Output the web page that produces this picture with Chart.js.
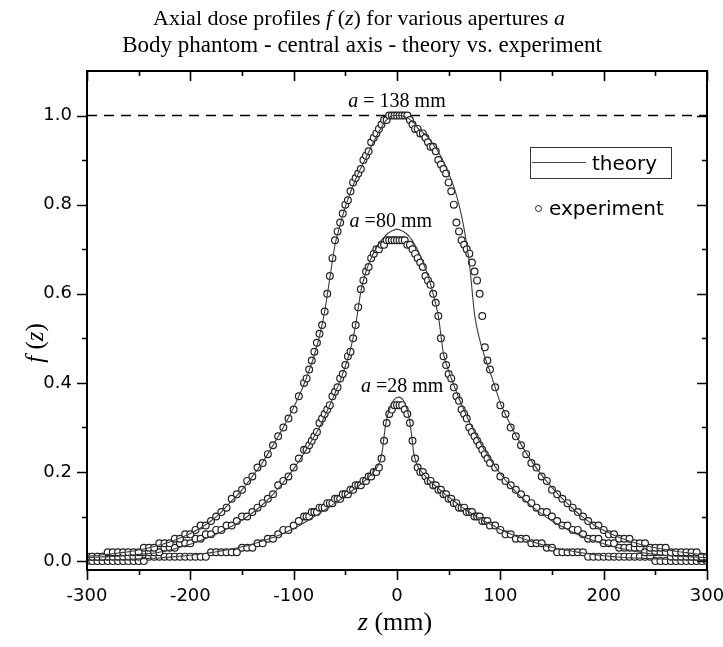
<!DOCTYPE html>
<html>
<head>
<meta charset="utf-8">
<script src="https://cdn.jsdelivr.net/npm/chart.js@4.4.1/dist/chart.umd.min.js"></script>
<style>
  html, body { margin: 0; padding: 0; background: #fff; }
  canvas { display: block; }
</style>
</head>
<body>
<canvas id="doseChart" width="723" height="647"></canvas>
<script>
// z positions (mm) of the measured points
const zExp = [
  -300,-295,-290,-285,-280,-275,-270,-265,-260,-255,-250,-245,-240,-235,-230,-225,-220,-215,-210,-205,-200,-195,-190,-185,-180,-175,-170,-165,-160,-155,-150,-145,-140,-135,-130,-125,-120,-115,-110,-105,-100,-95,-90,
  -87.5,-85,-82.5,-80,-77.5,-75,-72.5,-70,-67.5,-65,-62.5,-60,-57.5,-55,-52.5,-50,-47.5,-45,-42.5,-40,-37.5,-35,-32.5,-30,-27.5,-25,-22.5,-20,-17.5,-15,-12.5,-10,-7.5,-5,-2.5,
  0,
  2.5,5,7.5,10,12.5,15,17.5,20,22.5,25,27.5,30,32.5,35,37.5,40,42.5,45,47.5,50,52.5,55,57.5,60,62.5,65,67.5,70,72.5,75,77.5,80,82.5,85,87.5,
  90,95,100,105,110,115,120,125,130,135,140,145,150,155,160,165,170,175,180,185,190,195,200,205,210,215,220,225,230,235,240,245,250,255,260,265,270,275,280,285,290,295,300
];

// experiment, a = 138 mm
const exp138 = [
  0.01,0.01,0.01,0.01,0.02,0.02,0.02,0.02,0.02,0.02,0.02,0.03,0.03,0.03,0.04,0.04,0.04,0.05,0.05,0.06,0.06,0.07,0.08,0.08,0.09,0.10,0.11,0.12,0.14,0.15,0.16,0.18,0.19,0.21,0.22,0.24,0.26,0.28,0.30,0.32,0.34,0.37,0.40,
  0.41,0.43,0.45,0.47,0.49,0.51,0.53,0.56,0.60,0.64,0.68,0.72,0.74,0.76,0.78,0.80,0.81,0.83,0.85,0.86,0.87,0.88,0.90,0.91,0.92,0.94,0.95,0.96,0.97,0.98,0.99,0.99,1.00,1.00,1.00,
  1.00,
  1.00,1.00,1.00,1.00,0.99,0.98,0.97,0.97,0.96,0.96,0.95,0.94,0.93,0.93,0.92,0.90,0.89,0.88,0.87,0.85,0.83,0.80,0.76,0.74,0.72,0.71,0.70,0.69,0.67,0.65,0.63,0.60,0.55,0.48,0.45,
  0.43,0.39,0.35,0.33,0.30,0.28,0.26,0.24,0.22,0.21,0.19,0.18,0.16,0.15,0.14,0.13,0.12,0.11,0.10,0.09,0.08,0.08,0.07,0.06,0.06,0.05,0.05,0.05,0.04,0.04,0.04,0.03,0.03,0.03,0.03,0.02,0.02,0.02,0.02,0.02,0.02,0.01,0.01
];

// experiment, a = 80 mm
const exp80 = [
  0.01,0.01,0.01,0.01,0.01,0.01,0.01,0.01,0.01,0.01,0.01,0.02,0.02,0.02,0.02,0.03,0.03,0.03,0.04,0.04,0.04,0.05,0.05,0.06,0.06,0.07,0.07,0.08,0.08,0.09,0.10,0.10,0.11,0.12,0.13,0.14,0.15,0.17,0.18,0.19,0.21,0.23,0.25,
  0.25,0.26,0.27,0.28,0.29,0.31,0.32,0.33,0.34,0.35,0.37,0.38,0.39,0.41,0.42,0.44,0.46,0.47,0.50,0.53,0.57,0.61,0.63,0.65,0.66,0.68,0.69,0.70,0.70,0.71,0.71,0.72,0.72,0.72,0.72,
  0.72,
  0.72,0.72,0.72,0.71,0.71,0.70,0.69,0.68,0.67,0.66,0.64,0.63,0.62,0.60,0.58,0.55,0.50,0.46,0.44,0.42,0.41,0.39,0.37,0.36,0.34,0.33,0.32,0.30,0.29,0.28,0.27,0.26,0.25,0.24,0.23,
  0.22,0.21,0.19,0.18,0.17,0.16,0.15,0.14,0.13,0.12,0.11,0.11,0.10,0.09,0.08,0.08,0.07,0.07,0.06,0.05,0.05,0.05,0.04,0.04,0.04,0.03,0.03,0.03,0.03,0.03,0.02,0.02,0.02,0.02,0.02,0.01,0.01,0.01,0.01,0.01,0.01,0.01,0.01
];

// experiment, a = 28 mm
const exp28 = [
  0.00,0.00,0.00,0.00,0.00,0.00,0.00,0.00,0.00,0.00,0.00,0.00,0.01,0.01,0.01,0.01,0.01,0.01,0.01,0.01,0.01,0.01,0.01,0.01,0.02,0.02,0.02,0.02,0.02,0.02,0.03,0.03,0.03,0.04,0.04,0.05,0.05,0.06,0.07,0.07,0.08,0.09,0.10,
  0.10,0.10,0.11,0.11,0.11,0.12,0.12,0.12,0.13,0.13,0.13,0.14,0.14,0.14,0.15,0.15,0.15,0.16,0.16,0.17,0.17,0.17,0.18,0.18,0.19,0.19,0.20,0.20,0.21,0.23,0.27,0.31,0.33,0.34,0.35,
  0.35,
  0.35,0.35,0.34,0.33,0.31,0.27,0.23,0.21,0.20,0.20,0.19,0.18,0.18,0.17,0.17,0.16,0.16,0.15,0.15,0.14,0.14,0.13,0.13,0.12,0.12,0.12,0.11,0.11,0.11,0.10,0.10,0.10,0.09,0.09,0.09,
  0.08,0.08,0.07,0.06,0.06,0.05,0.05,0.05,0.04,0.04,0.04,0.03,0.03,0.02,0.02,0.02,0.02,0.02,0.02,0.01,0.01,0.01,0.01,0.01,0.01,0.01,0.01,0.01,0.01,0.01,0.01,0.01,0.00,0.00,0.00,0.00,0.00,0.00,0.00,0.00,0.00,0.00,0.00
];

// z positions (mm) of the theory curves
const zTheory = [
  -300,-290,-280,-270,-260,-250,-240,-230,-220,-210,-200,-190,-180,-170,-160,-150,-140,-130,-120,-110,-100,
  -95,-90,-85,-80,-75,-70,-65,-60,-55,-50,-45,-40,-35,-30,-25,-20,
  -18,-16,-14,-12,-10,-8,-6,-4,-2,0,2,4,6,8,10,12,14,16,18,
  20,25,30,35,40,45,50,55,60,65,70,75,80,85,90,95,
  100,110,120,130,140,150,160,170,180,190,200,210,220,230,240,250,260,270,280,290,300
];

const theory138 = [
  0.011,0.013,0.015,0.018,0.021,0.025,0.030,0.036,0.043,0.052,0.062,0.075,0.090,0.110,0.135,0.160,0.190,0.222,0.260,0.300,0.345,
  0.370,0.397,0.428,0.462,0.505,0.560,0.635,0.710,0.755,0.795,0.828,0.857,0.882,0.905,0.930,0.953,
  0.962,0.970,0.978,0.985,0.990,0.995,0.998,1.000,1.000,1.000,1.000,1.000,0.999,0.997,0.995,0.992,0.988,0.984,0.979,
  0.972,0.962,0.951,0.936,0.918,0.897,0.870,0.840,0.800,0.745,0.670,0.555,0.497,0.458,0.425,0.390,
  0.355,0.305,0.262,0.225,0.193,0.165,0.140,0.118,0.098,0.082,0.069,0.058,0.049,0.041,0.035,0.030,0.026,0.022,0.019,0.016,0.014
];

const theory80 = [
  0.008,0.009,0.010,0.011,0.013,0.015,0.017,0.020,0.025,0.031,0.038,0.046,0.055,0.066,0.078,0.092,0.108,0.127,0.150,0.177,0.207,
  0.224,0.242,0.260,0.280,0.300,0.325,0.350,0.377,0.405,0.437,0.475,0.530,0.605,0.650,0.680,0.703,
  0.710,0.717,0.723,0.728,0.733,0.737,0.740,0.742,0.744,0.745,0.744,0.742,0.740,0.737,0.733,0.728,0.722,0.715,0.707,
  0.698,0.672,0.640,0.600,0.550,0.465,0.427,0.395,0.365,0.338,0.313,0.290,0.268,0.248,0.229,0.212,
  0.196,0.168,0.144,0.124,0.106,0.090,0.077,0.065,0.055,0.046,0.039,0.032,0.027,0.022,0.018,0.015,0.013,0.011,0.010,0.009,0.008
];

const theory28 = [
  0.002,0.002,0.003,0.003,0.004,0.005,0.006,0.007,0.009,0.011,0.013,0.016,0.019,0.023,0.027,0.032,0.038,0.045,0.053,0.062,0.073,
  0.079,0.086,0.093,0.100,0.107,0.115,0.122,0.130,0.138,0.146,0.155,0.164,0.173,0.183,0.194,0.208,
  0.216,0.228,0.250,0.290,0.318,0.336,0.349,0.358,0.364,0.367,0.368,0.366,0.361,0.352,0.338,0.318,0.285,0.245,0.225,
  0.213,0.197,0.184,0.173,0.163,0.153,0.144,0.135,0.126,0.118,0.110,0.103,0.096,0.089,0.083,0.077,
  0.071,0.061,0.052,0.044,0.037,0.031,0.026,0.022,0.018,0.015,0.012,0.010,0.008,0.007,0.006,0.005,0.004,0.003,0.003,0.002,0.002
];

// normalisation reference line
const refZ = [-300, 300];
const refF = [1.0, 1.0];

// axis ticks
const xMajor = [-300, -200, -100, 0, 100, 200, 300];
const xMinor = [-250, -150, -50, 50, 150, 250];
const yMajor = [0.0, 0.2, 0.4, 0.6, 0.8, 1.0];
const yMinor = [0.1, 0.3, 0.5, 0.7, 0.9];

// curve labels: [text parts, z, f]
const curveLabels = [
  [[['a', 1], [' = 138 mm', 0]], 0, 1.02],
  [[['a', 1], [' =80 mm', 0]], -6, 0.75],
  [[['a', 1], [' =28 mm', 0]], 5, 0.38]
];

const SERIF = '"Liberation Serif", "Times New Roman", serif';
const SANS = '"DejaVu Sans", Arial, sans-serif';

function pts(xs, ys) {
  return xs.map((x, i) => ({ x: x, y: ys[i] }));
}

// draws a run of text where some pieces are italic
function drawRich(ctx, parts, x, y, size, align) {
  const font = p => (p[1] ? 'italic ' : '') + size + 'px ' + SERIF;
  let w = 0;
  parts.forEach(p => { ctx.font = font(p); w += ctx.measureText(p[0]).width; });
  let cx = align === 'center' ? x - w / 2 : x;
  ctx.textAlign = 'left';
  parts.forEach(p => {
    ctx.font = font(p);
    ctx.fillText(p[0], cx, y);
    cx += ctx.measureText(p[0]).width;
  });
}

const decorations = {
  id: 'decorations',
  afterDraw(chart) {
    const { ctx, chartArea: a, scales: { x, y } } = chart;
    ctx.save();

    // frame
    ctx.strokeStyle = '#000';
    ctx.lineWidth = 2;
    ctx.strokeRect(a.left, a.top, a.right - a.left, a.bottom - a.top);

    // ticks: outward on bottom/left, inward on top/right
    ctx.lineWidth = 1.6;
    ctx.beginPath();
    const xt = (v, len) => {
      const px = Math.round(x.getPixelForValue(v)) + 0.5;
      ctx.moveTo(px, a.bottom); ctx.lineTo(px, a.bottom + len);
      ctx.moveTo(px, a.top); ctx.lineTo(px, a.top + len);
    };
    const yt = (v, len) => {
      const py = Math.round(y.getPixelForValue(v)) + 0.5;
      ctx.moveTo(a.left, py); ctx.lineTo(a.left - len, py);
      ctx.moveTo(a.right, py); ctx.lineTo(a.right - len, py);
    };
    xMajor.forEach(v => xt(v, 10));
    xMinor.forEach(v => xt(v, 5));
    yMajor.forEach(v => yt(v, 10));
    yMinor.forEach(v => yt(v, 5));
    ctx.stroke();

    ctx.fillStyle = '#000';
    ctx.textBaseline = 'alphabetic';

    // title
    drawRich(ctx, [['Axial dose profiles ', 0], ['f', 1], [' (', 0], ['z', 1], [') for various apertures ', 0], ['a', 1]], 359, 25, 22, 'center');
    drawRich(ctx, [['Body phantom - central axis - theory vs. experiment', 0]], 362, 52, 23, 'center');

    // axis titles
    drawRich(ctx, [['z', 1], [' (mm)', 0]], 395, 630, 26, 'center');
    ctx.save();
    ctx.translate(36, 343);
    ctx.rotate(-Math.PI / 2);
    ctx.textBaseline = 'middle';
    drawRich(ctx, [['f', 1], [' (', 0], ['z', 1], [')', 0]], 0, 0, 25, 'center');
    ctx.restore();

    // curve labels
    curveLabels.forEach(l => {
      drawRich(ctx, l[0], x.getPixelForValue(l[1]), y.getPixelForValue(l[2]), 20, 'center');
    });

    // legend
    ctx.strokeStyle = '#333';
    ctx.lineWidth = 1;
    ctx.strokeRect(530.5, 147.5, 141, 31);
    ctx.strokeStyle = '#444';
    ctx.beginPath();
    ctx.moveTo(532, 162.5); ctx.lineTo(586, 162.5);
    ctx.stroke();
    ctx.font = '20px ' + SANS;
    ctx.textAlign = 'left';
    ctx.fillText('theory', 592, 170);
    ctx.fillText('experiment', 549, 215);
    ctx.strokeStyle = '#222';
    ctx.fillStyle = '#fff';
    ctx.beginPath();
    ctx.arc(538.5, 208.5, 3, 0, Math.PI * 2);
    ctx.fill();
    ctx.stroke();

    ctx.restore();
  }
};

const theoryStyle = {
  showLine: true,
  pointRadius: 0,
  borderColor: '#3c3c3c',
  borderWidth: 1.1,
  cubicInterpolationMode: 'monotone',
  order: 0
};
const expStyle = {
  showLine: false,
  pointStyle: 'circle',
  pointRadius: 3.4,
  pointBorderWidth: 1.2,
  pointBorderColor: '#222',
  pointBackgroundColor: '#fff',
  order: 1
};

new Chart(document.getElementById('doseChart').getContext('2d'), {
  type: 'scatter',
  data: {
    datasets: [
      Object.assign({ label: 'theory a=138', data: pts(zTheory, theory138) }, theoryStyle),
      Object.assign({ label: 'theory a=80', data: pts(zTheory, theory80) }, theoryStyle),
      Object.assign({ label: 'theory a=28', data: pts(zTheory, theory28) }, theoryStyle),
      Object.assign({ label: 'experiment a=138', data: pts(zExp, exp138) }, expStyle),
      Object.assign({ label: 'experiment a=80', data: pts(zExp, exp80) }, expStyle),
      Object.assign({ label: 'experiment a=28', data: pts(zExp, exp28) }, expStyle),
      {
        label: 'f = 1',
        data: pts(refZ, refF),
        showLine: true,
        pointRadius: 0,
        borderColor: '#000',
        borderWidth: 1.6,
        borderDash: [10, 7],
        order: 2
      }
    ]
  },
  options: {
    responsive: false,
    animation: false,
    events: [],
    devicePixelRatio: 1,
    layout: { padding: { top: 71, right: 16, bottom: 0, left: 0 } },
    plugins: {
      legend: { display: false },
      tooltip: { enabled: false },
      title: { display: false }
    },
    scales: {
      x: {
        type: 'linear',
        min: -300,
        max: 300,
        grid: { display: false, drawTicks: false },
        border: { display: false },
        afterBuildTicks: s => { s.ticks = xMajor.map(v => ({ value: v })); },
        afterFit: s => { s.height = 77; s.paddingLeft = 0; s.paddingRight = 0; },
        ticks: {
          color: '#000',
          padding: 16,
          maxRotation: 0,
          font: { family: SANS, size: 18 },
          callback: v => String(v)
        }
      },
      y: {
        type: 'linear',
        min: -0.02,
        max: 1.1,
        grid: { display: false, drawTicks: false },
        border: { display: false },
        afterBuildTicks: s => { s.ticks = yMajor.map(v => ({ value: v })); },
        afterFit: s => { s.width = 87; s.paddingTop = 0; s.paddingBottom = 0; },
        ticks: {
          color: '#000',
          padding: 15,
          font: { family: SANS, size: 18 },
          callback: v => Number(v).toFixed(1)
        }
      }
    }
  },
  plugins: [decorations]
});
</script>
</body>
</html>
